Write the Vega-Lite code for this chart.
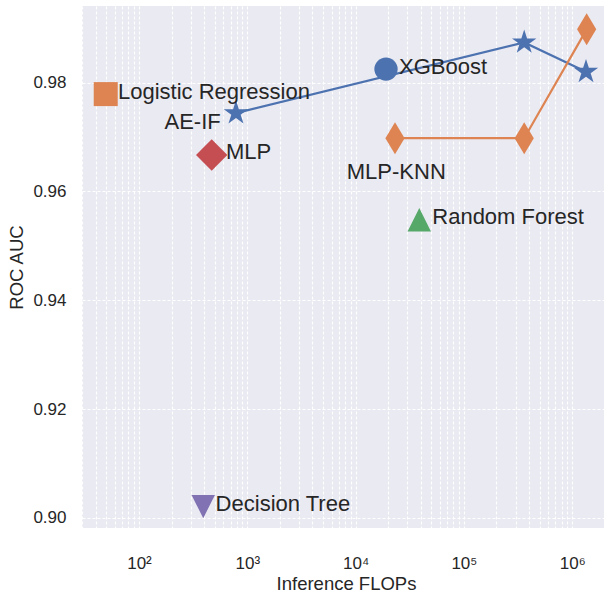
{
  "$schema": "https://vega.github.io/schema/vega-lite/v6.json",
  "width": 528,
  "height": 522,
  "autosize": "none",
  "padding": {"left": 82, "top": 6, "right": 0, "bottom": 73},
  "background": "white",
  "config": {
    "view": {"fill": "#EAEAF2", "stroke": null},
    "font": "Liberation Sans",
    "axis": {
      "domain": false,
      "ticks": false,
      "grid": true,
      "gridColor": "#ffffff",
      "gridDash": [3, 2],
      "gridWidth": 1.1,
      "labelColor": "#262626",
      "titleColor": "#262626",
      "labelFont": "Liberation Sans",
      "titleFont": "Liberation Sans",
      "labelFontSize": 17,
      "titleFontSize": 18.5,
      "titleFontWeight": "normal"
    }
  },
  "datasets": {
    "models": [
      {"model": "Logistic Regression", "flops": 49.3, "auc": 0.9779},
      {"model": "AE-IF", "flops": 786, "auc": 0.9744},
      {"model": "AE-IF", "flops": 360500, "auc": 0.9874},
      {"model": "AE-IF", "flops": 1341000, "auc": 0.9820},
      {"model": "XGBoost", "flops": 19090, "auc": 0.9825},
      {"model": "MLP", "flops": 469, "auc": 0.9667},
      {"model": "MLP-KNN", "flops": 23110, "auc": 0.9698},
      {"model": "MLP-KNN", "flops": 360500, "auc": 0.9698},
      {"model": "MLP-KNN", "flops": 1360000, "auc": 0.9898},
      {"model": "Random Forest", "flops": 38730, "auc": 0.9548},
      {"model": "Decision Tree", "flops": 392, "auc": 0.9021}
    ],
    "labels": [
      {"label": "Logistic Regression", "flops": 63.9, "auc": 0.9782},
      {"label": "AE-IF", "flops": 568, "auc": 0.9728},
      {"label": "XGBoost", "flops": 25160, "auc": 0.9829},
      {"label": "MLP", "flops": 636, "auc": 0.9673},
      {"label": "MLP-KNN", "flops": 23760, "auc": 0.9636},
      {"label": "Random Forest", "flops": 51050, "auc": 0.9553},
      {"label": "Decision Tree", "flops": 510, "auc": 0.9026}
    ]
  },
  "encoding": {
    "x": {
      "field": "flops",
      "type": "quantitative",
      "scale": {"type": "log", "domain": [29.77, 2234000], "nice": false},
      "axis": {
        "title": "Inference FLOPs",
        "values": [30, 40, 50, 60, 70, 80, 90, 100, 200, 300, 400, 500, 600, 700, 800, 900, 1000, 2000, 3000, 4000, 5000, 6000, 7000, 8000, 9000, 10000, 20000, 30000, 40000, 50000, 60000, 70000, 80000, 90000, 100000, 200000, 300000, 400000, 500000, 600000, 700000, 800000, 900000, 1000000, 2000000],
        "labelExpr": "datum.value == 100 ? '10²' : datum.value == 1000 ? '10³' : datum.value == 10000 ? '10⁴' : datum.value == 100000 ? '10⁵' : datum.value == 1000000 ? '10⁶' : ''",
        "labelOverlap": false,
        "labelBound": false,
        "labelPadding": 27,
        "titleY": 55,
        "titleBaseline": "middle"
      }
    },
    "y": {
      "field": "auc",
      "type": "quantitative",
      "scale": {"domain": [0.89816, 0.99409], "nice": false, "zero": false},
      "axis": {
        "title": "ROC AUC",
        "values": [0.90, 0.92, 0.94, 0.96, 0.98],
        "format": ".2f",
        "labelPadding": 16,
        "titleX": -66,
        "titleY": 261,
        "titleBaseline": "middle"
      }
    }
  },
  "layer": [
    {
      "data": {"name": "models"},
      "transform": [{"filter": {"field": "model", "equal": "AE-IF"}}],
      "mark": {"type": "line", "color": "#4C72B0", "strokeWidth": 2.2}
    },
    {
      "data": {"name": "models"},
      "transform": [{"filter": {"field": "model", "equal": "MLP-KNN"}}],
      "mark": {"type": "line", "color": "#DD8452", "strokeWidth": 2.2}
    },
    {
      "data": {"name": "models"},
      "mark": {"type": "point", "filled": true, "opacity": 1, "size": 1024},
      "encoding": {
        "color": {
          "field": "model",
          "type": "nominal",
          "legend": null,
          "scale": {
            "domain": ["Logistic Regression", "AE-IF", "XGBoost", "MLP", "MLP-KNN", "Random Forest", "Decision Tree"],
            "range": ["#DD8452", "#4C72B0", "#4C72B0", "#C44E52", "#DD8452", "#55A868", "#8172B3"]
          }
        },
        "shape": {
          "field": "model",
          "type": "nominal",
          "legend": null,
          "scale": {
            "domain": ["Logistic Regression", "AE-IF", "XGBoost", "MLP", "MLP-KNN", "Random Forest", "Decision Tree"],
            "range": [
              "M-0.75,-0.75L0.75,-0.75L0.75,0.75L-0.75,0.75Z",
              "M0,-0.8L0.1796,-0.2472L0.7609,-0.2472L0.2906,0.0944L0.4702,0.6472L0,0.3056L-0.4702,0.6472L-0.2906,0.0944L-0.7609,-0.2472L-0.1796,-0.2472Z",
              "M0.73,0A0.73,0.73,0,1,1,-0.73,0A0.73,0.73,0,1,1,0.73,0Z",
              "M0,-0.98L0.98,0L0,0.98L-0.98,0Z",
              "M0,-1L0.6,0L0,1L-0.6,0Z",
              "M0,-0.73L0.73,0.73L-0.73,0.73Z",
              "M0,0.73L0.73,-0.73L-0.73,-0.73Z"
            ]
          }
        }
      }
    },
    {
      "data": {"name": "labels"},
      "transform": [{"filter": {"field": "label", "oneOf": ["Logistic Regression", "XGBoost", "MLP", "Random Forest", "Decision Tree"]}}],
      "mark": {"type": "text", "align": "left", "baseline": "middle", "fontSize": 22, "color": "#262626", "font": "Liberation Sans"},
      "encoding": {"text": {"field": "label"}}
    },
    {
      "data": {"name": "labels"},
      "transform": [{"filter": {"field": "label", "equal": "AE-IF"}}],
      "mark": {"type": "text", "align": "right", "baseline": "middle", "fontSize": 22, "color": "#262626", "font": "Liberation Sans"},
      "encoding": {"text": {"field": "label"}}
    },
    {
      "data": {"name": "labels"},
      "transform": [{"filter": {"field": "label", "equal": "MLP-KNN"}}],
      "mark": {"type": "text", "align": "center", "baseline": "middle", "fontSize": 22, "color": "#262626", "font": "Liberation Sans"},
      "encoding": {"text": {"field": "label"}}
    }
  ]
}
